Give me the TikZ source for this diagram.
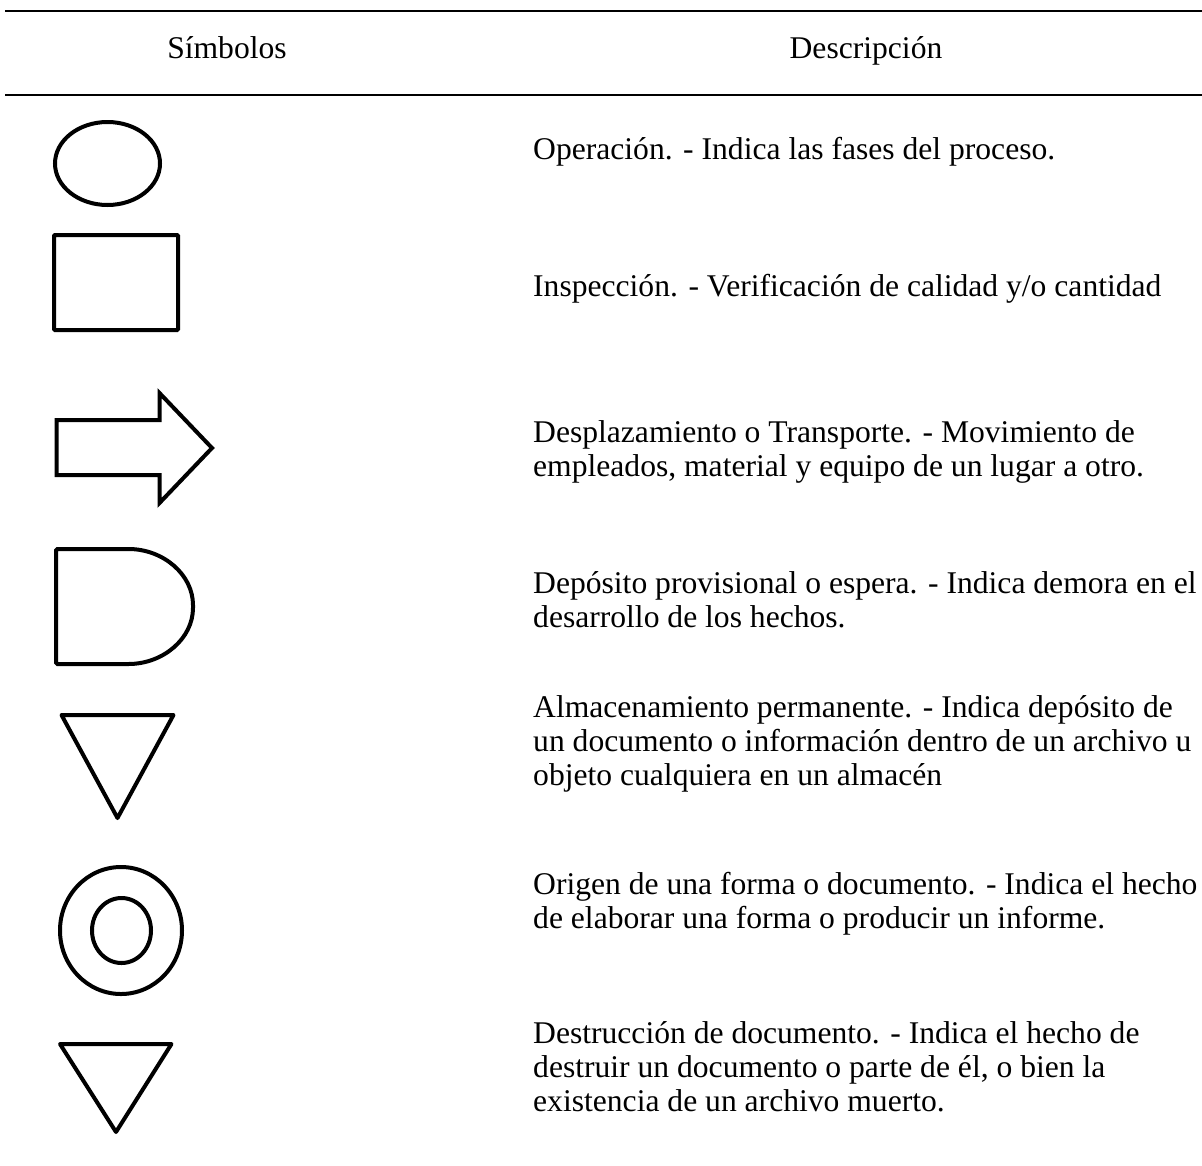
\documentclass[tikz,border=0pt]{standalone}
\usepackage{fontspec}
\setmainfont{Liberation Serif}
\begin{document}
\begin{tikzpicture}[x=1pt,y=-1pt,
  rule/.style={line width=2.2pt},
  sym/.style={line width=4pt, line join=miter},
  symround/.style={line width=4pt, line join=round},
  head/.style={anchor=base, inner sep=0pt, font=\fontsize{31.6}{34}\selectfont},
  desc/.style={anchor=base west, inner sep=0pt, font=\fontsize{31.6}{34}\selectfont}]
\useasboundingbox (0,0) rectangle (1202,1165);

% table rules
\coordinate (r1a) at (5,11);   \coordinate (r1b) at (1202,11);
\coordinate (r2a) at (5,95);   \coordinate (r2b) at (1202,95);
\draw[rule] (r1a) -- (r1b);
\draw[rule] (r2a) -- (r2b);

% column headings
\node[head] (hsym) at (227,58) {Símbolos};
\node[head] (hdesc) at (866,58) {Descripción};

% symbols
\draw[sym] (107.5,163.5) ellipse [x radius=52.5, y radius=41.5];
\draw[sym, rounded corners=1pt] (54,235) rectangle (178,330);
\draw[sym] (56.5,420) -- (159.5,420) -- (159.5,393) -- (212,448)
  -- (159.5,503) -- (159.5,475) -- (56.5,475) -- cycle;
\draw[sym, rounded corners=1.5pt] (127,549)
  .. controls (163.45,549) and (193,574.74) .. (193,606.5)
  .. controls (193,638.26) and (163.45,664) .. (127,664)
  -- (56,664) -- (56,549) -- cycle;
\draw[symround] (61.5,715) -- (173.5,715) -- (117.5,818) -- cycle;
\draw[sym] (121,930.5) ellipse [x radius=61, y radius=63.5];
\draw[sym] (121.5,930.5) ellipse [x radius=29.5, y radius=32.5];
\draw[symround] (60,1044) -- (171.5,1044) -- (116,1132) -- cycle;

% descriptions
\node[desc] (d1) at (533,159) {Operación. - Indica las fases del proceso.};
\node[desc] (d2) at (533,296) {Inspección. - Verificación de calidad y/o cantidad};
\node[desc] (d3) at (533,442) {\begin{tabular}[t]{@{}l@{}}Desplazamiento o Transporte. - Movimiento de\\
  empleados, material y equipo de un lugar a otro.\end{tabular}};
\node[desc] (d4) at (533,593) {\begin{tabular}[t]{@{}l@{}}Depósito provisional o espera. - Indica demora en el\\
  desarrollo de los hechos.\end{tabular}};
\node[desc] (d5) at (533,717) {\begin{tabular}[t]{@{}l@{}}Almacenamiento permanente. - Indica depósito de\\
  un documento o información dentro de un archivo u\\
  objeto cualquiera en un almacén\end{tabular}};
\node[desc] (d6) at (533,894) {\begin{tabular}[t]{@{}l@{}}Origen de una forma o documento. - Indica el hecho\\
  de elaborar una forma o producir un informe.\end{tabular}};
\node[desc] (d7) at (533,1043) {\begin{tabular}[t]{@{}l@{}}Destrucción de documento. - Indica el hecho de\\
  destruir un documento o parte de él, o bien la\\
  existencia de un archivo muerto.\end{tabular}};
\end{tikzpicture}
\end{document}
